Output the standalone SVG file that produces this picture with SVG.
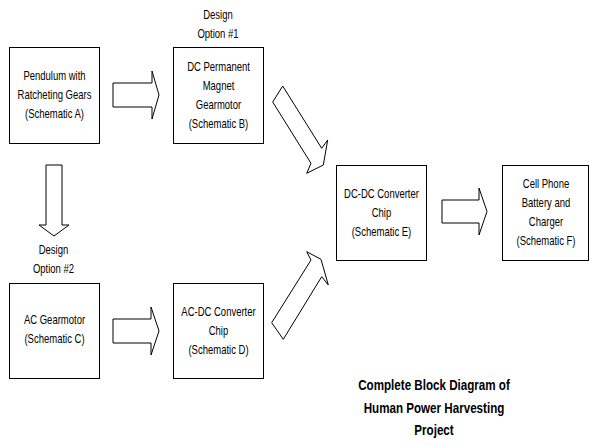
<svg xmlns="http://www.w3.org/2000/svg" width="589" height="445" viewBox="0 0 589 445">
<style>
  .box { fill: #ffffff; stroke: #000000; stroke-width: 1; }
  .arrow { fill: #ffffff; stroke: #000000; stroke-width: 1; stroke-linejoin: miter; }
  .t { font-family: "Liberation Sans", Arial, sans-serif; font-size: 13px; fill: #000000; text-anchor: middle; }
  .title { font-family: "Liberation Sans", Arial, sans-serif; font-size: 15.5px; font-weight: bold; fill: #000000; text-anchor: middle; }
</style>
<rect x="0" y="0" width="589" height="445" fill="#ffffff"/>

<g id="connectors">
  <polygon class="arrow" points="113,83 152,83 152,71 159,95 152,119 152,107 113,107"/>
  <polygon class="arrow" points="46,165 62,165 62,225 69,225 54,236 39,225 46,225"/>
  <polygon class="arrow" points="113,319 151,319 151,307 159,331 151,355 151,343 113,343"/>
  <polygon class="arrow" points="442,200 479,200 479,188 487,211.5 479,235 479,223 442,223"/>
  <polygon class="arrow" points="282.7,86 321.7,148.3 327.7,140 323.3,165 306.7,173.3 311,163.3 272.7,102"/>
  <polygon class="arrow" points="283.3,339.3 271.7,322.7 311,260 306.7,251.7 321,259.3 328.3,285 321.7,276.7"/>
</g>

<g id="nodeA">
  <rect class="box" x="9.5" y="47.5" width="90" height="96"/>
  <g transform="translate(54.5,0) scale(0.73,1)">
    <text class="t" x="0" y="80">Pendulum with</text>
    <text class="t" x="0" y="99">Ratcheting Gears</text>
    <text class="t" x="0" y="118">(Schematic A)</text>
  </g>
</g>

<g id="labelOption1">
  <g transform="translate(218,0) scale(0.73,1)">
    <text class="t" x="0" y="19">Design</text>
    <text class="t" x="0" y="38">Option #1</text>
  </g>
</g>

<g id="nodeB">
  <rect class="box" x="173.5" y="47.5" width="90" height="96"/>
  <g transform="translate(218.5,0) scale(0.73,1)">
    <text class="t" x="0" y="71">DC Permanent</text>
    <text class="t" x="0" y="90">Magnet</text>
    <text class="t" x="0" y="109">Gearmotor</text>
    <text class="t" x="0" y="128">(Schematic B)</text>
  </g>
</g>

<g id="labelOption2">
  <g transform="translate(53.5,0) scale(0.73,1)">
    <text class="t" x="0" y="254">Design</text>
    <text class="t" x="0" y="273">Option #2</text>
  </g>
</g>

<g id="nodeC">
  <rect class="box" x="9.5" y="283.5" width="90" height="95"/>
  <g transform="translate(54.5,0) scale(0.73,1)">
    <text class="t" x="0" y="324">AC Gearmotor</text>
    <text class="t" x="0" y="343">(Schematic C)</text>
  </g>
</g>

<g id="nodeD">
  <rect class="box" x="173.5" y="283.5" width="90" height="95"/>
  <g transform="translate(218.5,0) scale(0.73,1)">
    <text class="t" x="0" y="316">AC-DC Converter</text>
    <text class="t" x="0" y="335">Chip</text>
    <text class="t" x="0" y="354">(Schematic D)</text>
  </g>
</g>

<g id="nodeE">
  <rect class="box" x="336.5" y="165.5" width="90" height="95"/>
  <g transform="translate(381.5,0) scale(0.73,1)">
    <text class="t" x="0" y="198">DC-DC Converter</text>
    <text class="t" x="0" y="217">Chip</text>
    <text class="t" x="0" y="236">(Schematic E)</text>
  </g>
</g>

<g id="nodeF">
  <rect class="box" x="502.5" y="165.5" width="86" height="95"/>
  <g transform="translate(546,0) scale(0.73,1)">
    <text class="t" x="0" y="188">Cell Phone</text>
    <text class="t" x="0" y="207">Battery and</text>
    <text class="t" x="0" y="226">Charger</text>
    <text class="t" x="0" y="245">(Schematic F)</text>
  </g>
</g>

<g id="title">
  <g transform="translate(434,0) scale(0.75,1)">
    <text class="title" x="0" y="390">Complete Block Diagram of</text>
    <text class="title" x="0" y="413">Human Power Harvesting</text>
    <text class="title" x="0" y="435">Project</text>
  </g>
</g>
</svg>
